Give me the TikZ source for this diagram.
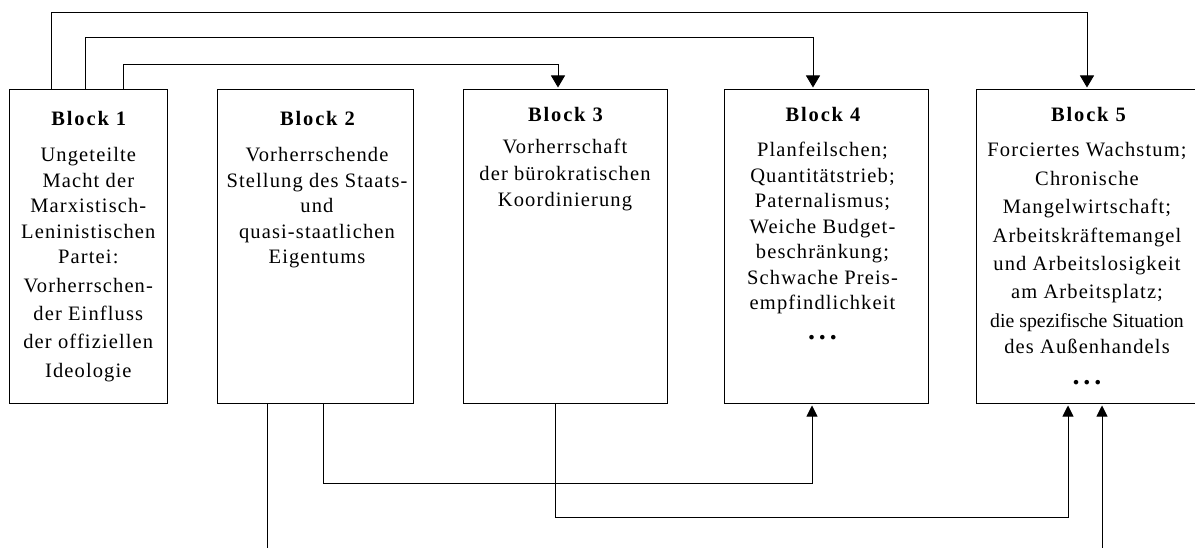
\documentclass[tikz,border=0pt]{standalone}
\usepackage{fontspec}
\setmainfont{Liberation Serif}
\newfontfamily\bodyfam[LetterSpace=5.5]{Liberation Serif}
\newfontfamily\titlefam[LetterSpace=9]{Liberation Serif}
\usetikzlibrary{arrows.meta}
\newcommand{\bodytab}[1]{\begin{tabular}[t]{@{}c@{}}#1\end{tabular}}
\newcommand{\plainline}[1]{{\fontspec{Liberation Serif}\fontsize{19.8}{28.2}\selectfont #1}}
\newcommand{\dotsline}{{\fontspec{Liberation Serif}\bfseries\fontsize{28}{28}\selectfont .\hspace{4pt}.\hspace{4pt}.}}
\tikzset{
  box/.style={draw, line width=1pt, minimum height=313pt, inner sep=0pt},
  title/.style={inner sep=0pt, anchor=base, font=\titlefam\bfseries\fontsize{20.5}{24}\selectfont},
  body/.style={inner sep=0pt, anchor=base, font=\bodyfam\fontsize{20.5}{25.5}\selectfont},
  conn/.style={line width=0.9pt},
  arrtop/.style={conn, -{Triangle[width=14pt,length=12pt]}, shorten >=2pt},
  arrbot/.style={conn, -{Triangle[width=11pt,length=11pt]}, shorten >=2pt}
}
\begin{document}
\begin{tikzpicture}[x=1pt,y=-1pt]
\useasboundingbox (0,0) rectangle (1195,548);
% boxes
\node[box, minimum width=157.4pt] (b1) at (88.3,246.5) {};
\node[box, minimum width=196pt] (b2) at (315,246.5) {};
\node[box, minimum width=204pt] (b3) at (565,246.5) {};
\node[box, minimum width=204pt] (b4) at (826,246.5) {};
\node[box, minimum width=240pt] (b5) at (1096,246.5) {};
% titles
\node[title] (h1) at (88.8,125.5) {Block 1};
\node[title] (h2) at (317.5,125.5) {Block 2};
\node[title] (h3) at (565.5,121.5) {Block 3};
\node[title] (h4) at (823,121.5) {Block 4};
\node[title] (h5) at (1088.5,121.5) {Block 5};
% bodies
\node[body] (t1) at (88.3,162) {\bodytab{Ungeteilte\\ Macht der\\ Marxistisch-\\ Leninistischen\\ Partei:\\[2.8pt] Vorherrschen-\\[2.8pt] der Einfluss\\[2.8pt] der offiziellen\\[2.8pt] Ideologie}};
\node[body] (t2) at (317,162) {\bodytab{Vorherrschende\\ Stellung des Staats-\\ und\\ quasi-staatlichen\\ Eigentums}};
\node[body, font=\bodyfam\fontsize{20.5}{26.5}\selectfont] (t3) at (565,154) {\bodytab{Vorherrschaft\\ der bürokratischen\\ Koordinierung}};
\node[body] (t4) at (822.5,157) {\bodytab{Planfeilschen;\\ Quantitätstrieb;\\ Paternalismus;\\ Weiche Budget-\\ beschränkung;\\ Schwache Preis-\\ empfindlichkeit\\[4pt] \dotsline}};
\node[body, font=\bodyfam\fontsize{20.5}{28.4}\selectfont] (t5) at (1087,157) {\bodytab{Forciertes Wachstum;\\ Chronische\\ Mangelwirtschaft;\\ Arbeitskräftemangel\\ und Arbeitslosigkeit\\ am Arbeitsplatz;\\ \plainline{die spezifische Situation}\\[-2pt] des Außenhandels\\[2pt] \dotsline}};
% top connector corners
\coordinate (c1) at (51,12);
\coordinate (c1e) at (1087,12);
\coordinate (c2) at (85,37.5);
\coordinate (c2e) at (813,37.5);
\coordinate (c3) at (123,64);
\coordinate (c3e) at (558,64);
\draw[arrtop] (b1.north -| c1) |- (c1e) -- (b5.north -| c1e);
\draw[arrtop] (b1.north -| c2) |- (c2e) -- (b4.north -| c2e);
\draw[arrtop] (b1.north -| c3) |- (c3e) -- (b3.north -| c3e);
% bottom connector corners
\coordinate (d1) at (323,483);
\coordinate (d1e) at (812,483);
\coordinate (d2) at (555,517);
\coordinate (d2e) at (1068,517);
\coordinate (e1) at (267,548);
\coordinate (e2) at (1102,548);
\draw[arrbot] (b2.south -| d1) |- (d1e) -- (b4.south -| d1e);
\draw[arrbot] (b3.south -| d2) |- (d2e) -- (b5.south -| d2e);
\draw[conn] (b2.south -| e1) -- (e1);
\draw[arrbot] (e2) -- (b5.south -| e2);
\end{tikzpicture}
\end{document}
